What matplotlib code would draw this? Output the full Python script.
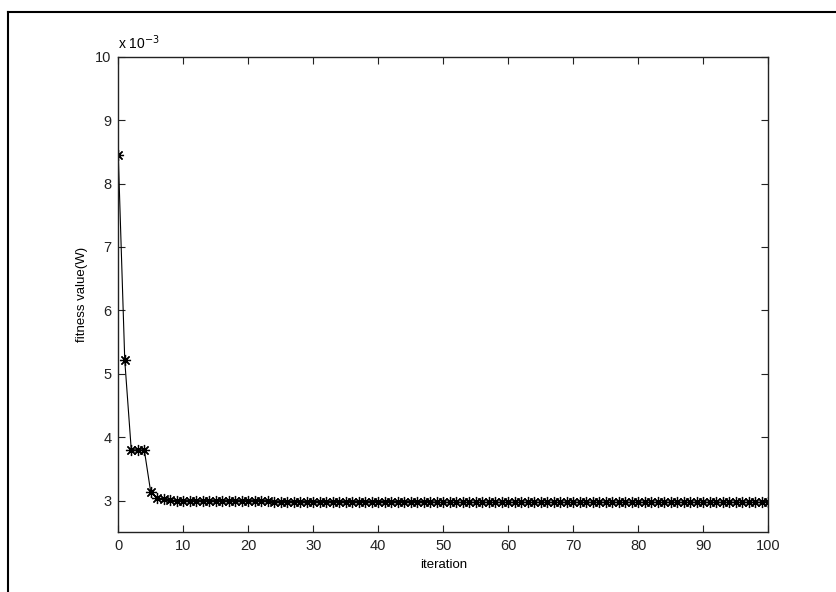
import numpy as np
import matplotlib
matplotlib.use('Agg')
import matplotlib.pyplot as plt
from matplotlib.ticker import FuncFormatter
from matplotlib.lines import Line2D

plt.rcParams['font.family'] = ['Liberation Sans', 'DejaVu Sans']

# fitness value per iteration (W)
iteration = np.arange(0, 101)
first_vals = [8.45, 5.21, 3.80, 3.80, 3.80, 3.13, 3.04, 3.02, 3.01]
mid_vals = [3.00] * 15      # iterations 9..23
late_vals = [2.985] * 25    # iterations 24..48
tail_vals = [2.972] * 52    # iterations 49..100
fitness = np.array(first_vals + mid_vals + late_vals + tail_vals) * 1e-3

x_ticks = list(range(0, 101, 10))
y_ticks = [v * 1e-3 for v in range(3, 11)]

fig = plt.figure(figsize=(8.37, 5.92), dpi=100)
ax = fig.add_axes([0.1413, 0.1008, 0.7766, 0.8033])

ax.plot(iteration, fitness, color='black', lw=0.8,
        marker=(8, 2, 0), markersize=8, markeredgewidth=0.9)

ax.set_xlim(0, 100)
ax.set_ylim(2.5e-3, 10e-3)
ax.set_xticks(x_ticks)
ax.set_yticks(y_ticks)
ax.yaxis.set_major_formatter(FuncFormatter(lambda v, p: '%g' % round(v * 1e3, 6)))

for s in ax.spines.values():
    s.set_linewidth(1.0)
    s.set_color('#222222')
ax.tick_params(direction='in', length=5, width=0.8, top=True, right=True,
               labelsize=10.5, colors='#222222', pad=5)

ax.set_xlabel('iteration', fontsize=9.5, labelpad=4)
ax.set_ylabel('fitness value(W)', fontsize=9.5, labelpad=5)
ax.text(0.0, 1.01, r'x 10$^{-3}$', transform=ax.transAxes, fontsize=10,
        ha='left', va='bottom')

# frame around the figure (left and top edges visible)
fig.add_artist(Line2D([8 / 837, 8 / 837], [0, 1 - 12 / 592], transform=fig.transFigure,
                      color='black', lw=1.5))
fig.add_artist(Line2D([8 / 837, 1], [1 - 12 / 592, 1 - 12 / 592], transform=fig.transFigure,
                      color='black', lw=1.5))

fig.savefig('out.png', dpi=100)
